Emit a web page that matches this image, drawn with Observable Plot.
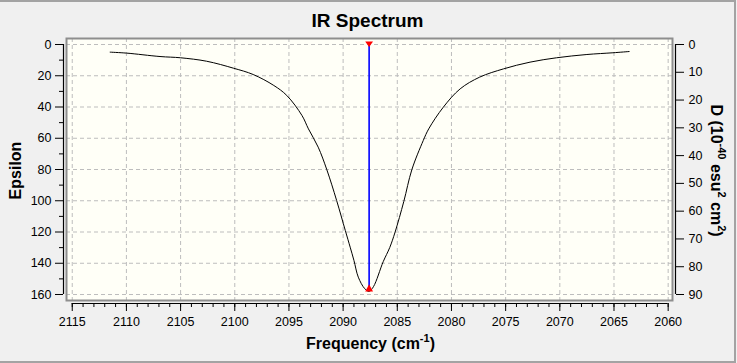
<!DOCTYPE html>
<html>
<head>
<meta charset="utf-8">
<script src="https://cdn.jsdelivr.net/npm/d3@7"></script>
<script src="https://cdn.jsdelivr.net/npm/@observablehq/plot@0.6"></script>
<style>
  html, body { margin: 0; padding: 0; background: #f0f0f0; }
  #wrap { position: relative; width: 737px; height: 363px; overflow: hidden; }
  #border { position: absolute; left: -2px; top: 0px; width: 734px; height: 359px;
            border: 2px solid #a3a3a3; pointer-events: none; box-sizing: content-box; }
</style>
</head>
<body>
<div id="wrap"><div id="border"></div></div>
<script>
// ---- data ----
const freq = [2111.5, 2110.0, 2106.9, 2105.0, 2102.6, 2100.1, 2098.3, 2096.4, 2095.2, 2093.8,
              2093.2, 2092.3, 2091.5, 2090.6, 2089.8, 2089.35, 2089.0, 2088.6, 2088.0, 2087.6,
              2087.2, 2086.3, 2085.7, 2085.2, 2084.4, 2083.66, 2082.6, 2082.1, 2080.75, 2079.2,
              2077.4, 2075.2, 2072.75, 2070.3, 2067.5, 2065.1, 2063.6];
const epsilon = [4.9, 5.5, 7.7, 8.5, 10.7, 15.2, 19.2, 26.2, 32.6, 45.4,
                 54, 65.7, 80.2, 99.8, 119, 129.7, 138.2, 148.9, 156.3, 158,
                 155, 139, 130, 120, 100.5, 80.2, 61.4, 54, 40.1, 28.4,
                 20.9, 15.6, 11.3, 8.5, 6.4, 5.3, 4.5];
const stickFreq = [2087.6];
const stickEps = [158];

const xMajorTicks = [2115, 2110, 2105, 2100, 2095, 2090, 2085, 2080, 2075, 2070, 2065, 2060];
const xMinorTicks = d3.range(2060, 2116, 1);
const yMajorTicks = [0, 20, 40, 60, 80, 100, 120, 140, 160];
const yMinorTicks = [10, 30, 50, 70, 90, 110, 130, 150];
const dTicks = [0, 10, 20, 30, 40, 50, 60, 70, 80, 90];
const dMax = 90, epsMax = 160;          // right axis 0..90 spans left axis 0..160
const ratio = epsMax / dMax;

const xDomain = [2115.53, 2059.6];
const yDomain = [-3.84, 163.84];

const curve = freq.map((f, i) => ({f, e: epsilon[i]}));
const sticks = stickFreq.map((f, i) => ({f, e: stickEps[i]}));

const triDown = {draw(ctx, size) { const s = Math.sqrt(size);
  ctx.moveTo(-0.55 * s, -0.42 * s); ctx.lineTo(0.55 * s, -0.42 * s); ctx.lineTo(0, 0.36 * s); ctx.closePath(); }};
const triUp = {draw(ctx, size) { const s = Math.sqrt(size);
  ctx.moveTo(0, -s); ctx.lineTo(0.55 * s, 0); ctx.lineTo(-0.55 * s, 0); ctx.closePath(); }};

const font = "'Liberation Sans', Arial, sans-serif";
const grid = {stroke: "#bdbdbd", strokeDasharray: "4,3", strokeWidth: 1};

const svg = Plot.plot({
  width: 737, height: 363,
  marginLeft: 66, marginRight: 65, marginTop: 38, marginBottom: 63,
  style: {background: "transparent", fontFamily: font, fontSize: "12.5px", color: "#000"},
  x: {domain: xDomain},
  y: {domain: yDomain, reverse: true},
  marks: [
    Plot.frame({fill: "#fffff7", stroke: null}),
    Plot.ruleX(xMajorTicks, grid),
    Plot.ruleY(yMajorTicks, grid),
    Plot.frame({stroke: "#8e8e8e", strokeWidth: 2}),
    // axis lines
    Plot.ruleX([xDomain[0]], {y1: yMajorTicks[0], y2: yMajorTicks[yMajorTicks.length - 1], dx: -3, stroke: "#000", strokeWidth: 1.2}),
    Plot.ruleX([xDomain[1]], {y1: yMajorTicks[0], y2: yMajorTicks[yMajorTicks.length - 1], dx: 3, stroke: "#000", strokeWidth: 1.2}),
    Plot.ruleY([yDomain[1]], {x1: xMajorTicks[0], x2: xMajorTicks[xMajorTicks.length - 1], dy: 3, stroke: "#000", strokeWidth: 1.2}),
    // axes
    Plot.axisY(yMajorTicks, {anchor: "left", tickSize: 8, tickPadding: 4, dx: -3, label: null, tickFormat: d => String(d)}),
    Plot.axisY(yMinorTicks, {anchor: "left", tickSize: 4, dx: -3, label: null, tickFormat: () => ""}),
    Plot.axisY(dTicks.map(d => d * ratio), {anchor: "right", tickSize: 8, tickPadding: 5, dx: 3, label: null,
                tickFormat: v => String(Math.round(v / ratio))}),
    Plot.axisX(xMajorTicks, {anchor: "bottom", tickSize: 8, tickPadding: 6, dy: 3, label: null, tickFormat: d => String(d)}),
    Plot.axisX(xMinorTicks, {anchor: "bottom", tickSize: 4, dy: 3, label: null, tickFormat: () => ""}),
    // spectrum
    Plot.line(curve, {x: "f", y: "e", stroke: "#000", strokeWidth: 1, curve: "catmull-rom"}),
    Plot.ruleX(sticks, {x: "f", y1: 0, y2: "e", stroke: "#0000ff", strokeWidth: 1.6}),
    Plot.dot(sticks, {x: "f", y: 0, symbol: triDown, r: 4, fill: "#ff0000", stroke: null}),
    Plot.dot(sticks, {x: "f", y: "e", symbol: triUp, r: 4, fill: "#ff0000", stroke: null}),
    // titles
    Plot.text(["IR Spectrum"], {frameAnchor: "top", textAnchor: "middle", lineAnchor: "bottom", dy: -11.5, dx: -2, fontSize: 19, fontWeight: "bold", fill: "#000"}),
    Plot.text(["Frequency (cm-1)"], {frameAnchor: "bottom", textAnchor: "middle", lineAnchor: "bottom", dy: 48, dx: 1, fontSize: 16, fontWeight: "bold", fill: "#000"}),
    Plot.text(["Epsilon"], {frameAnchor: "left", textAnchor: "middle", lineAnchor: "bottom", rotate: -90, dx: -45.5, dy: 1, fontSize: 16, fontWeight: "bold", fill: "#000"}),
    Plot.text(["D (10-40 esu2 cm2)"], {frameAnchor: "right", textAnchor: "middle", lineAnchor: "bottom", rotate: 90, dx: 38, dy: 1, fontSize: 16, fontWeight: "bold", fill: "#000"})
  ]
});

// superscripts in the axis labels
d3.select(svg).selectAll("text").each(function () {
  const t = d3.select(this);
  const s = t.text();
  let parts = null;
  if (s === "Frequency (cm-1)") parts = [["Frequency (cm", 0], ["-1", 1], [")", 0]];
  if (s === "D (10-40 esu2 cm2)") parts = [["D (10", 0], ["-40", 1], [" esu", 0], ["2", 1], [" cm", 0], ["2", 1], [")", 0]];
  if (!parts) return;
  t.text("");
  let prev = 0;
  parts.forEach(([txt, sup]) => {
    const sp = t.append("tspan").text(txt);
    if (sup) sp.attr("font-size", "11px");
    const shift = (sup ? -7 : 0) - prev;
    if (shift) sp.attr("dy", shift);
    prev = sup ? -7 : 0;
  });
});

document.getElementById("wrap").prepend(svg);
svg.style.position = "absolute";
svg.style.left = "0px";
svg.style.top = "0px";
</script>
</body>
</html>
